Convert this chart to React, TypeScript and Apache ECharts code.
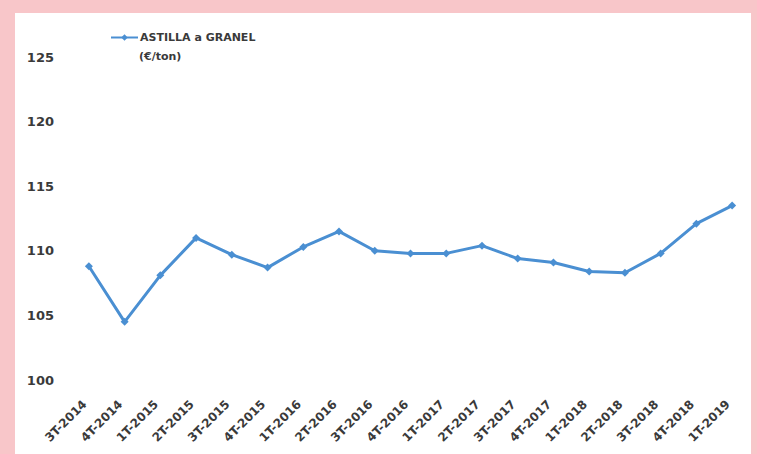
import React, { useEffect, useRef } from "react";
import * as echarts from "echarts";

const categories = [
  "3T-2014", "4T-2014", "1T-2015", "2T-2015", "3T-2015", "4T-2015",
  "1T-2016", "2T-2016", "3T-2016", "4T-2016", "1T-2017", "2T-2017",
  "3T-2017", "4T-2017", "1T-2018", "2T-2018", "3T-2018", "4T-2018", "1T-2019",
];
const seriesName = "ASTILLA a GRANEL";
const unitLabel = "(€/ton)";
const values = [
  108.8, 104.5, 108.1, 111.0, 109.7, 108.7, 110.3, 111.5, 110.0, 109.8,
  109.8, 110.4, 109.4, 109.1, 108.4, 108.3, 109.8, 112.1, 113.5,
];
const yMin = 100;
const yMax = 125;
const yStep = 5;

const FONT = "'DejaVu Sans', sans-serif";

export default function App() {
  const ref = useRef<HTMLDivElement>(null);
  useEffect(() => {
    if (!ref.current) return;
    const chart = echarts.init(ref.current, null, { renderer: "svg" });
    chart.setOption({
      animation: false,
      backgroundColor: "#f8c6c9",
      graphic: [
        {
          type: "rect",
          z: -10,
          silent: true,
          shape: { x: 15, y: 13, width: 736, height: 441 },
          style: { fill: "#ffffff" },
        },
        {
          type: "text",
          left: 139,
          top: 51,
          style: {
            text: unitLabel,
            fill: "#3a3a3a",
            font: `bold 11px ${FONT}`,
          },
        },
      ],
      legend: {
        left: 110,
        top: 32,
        padding: 0,
        itemWidth: 27,
        itemHeight: 8,
        itemGap: 2,
        textStyle: {
          color: "#3a3a3a",
          fontFamily: FONT,
          fontWeight: "bold",
          fontSize: 11,
          padding: [0, 0, 0, -3],
        },
        data: [seriesName],
      },
      grid: { left: 71, right: 7, top: 57, bottom: 74 },
      xAxis: {
        type: "category",
        data: categories,
        boundaryGap: true,
        axisLine: { show: false },
        axisTick: { show: false },
        axisLabel: {
          rotate: 45,
          margin: 18,
          padding: [0, 6, 0, 0],
          color: "#3a3a3a",
          fontFamily: FONT,
          fontWeight: "bold",
          fontSize: 12,
          interval: 0,
        },
      },
      yAxis: {
        type: "value",
        min: yMin,
        max: yMax,
        interval: yStep,
        axisLine: { show: false },
        axisTick: { show: false },
        splitLine: { show: false },
        axisLabel: {
          margin: 17,
          color: "#3a3a3a",
          fontFamily: FONT,
          fontWeight: "bold",
          fontSize: 13,
        },
      },
      series: [
        {
          name: seriesName,
          type: "line",
          data: values,
          symbol: "diamond",
          symbolSize: 8,
          lineStyle: { color: "#4a8fd2", width: 3 },
          itemStyle: { color: "#4a8fd2" },
        },
      ],
    });
    return () => chart.dispose();
  }, []);
  return (
    <div
      ref={ref}
      style={{ position: "absolute", left: 0, top: 0, width: 757, height: 454 }}
    />
  );
}
